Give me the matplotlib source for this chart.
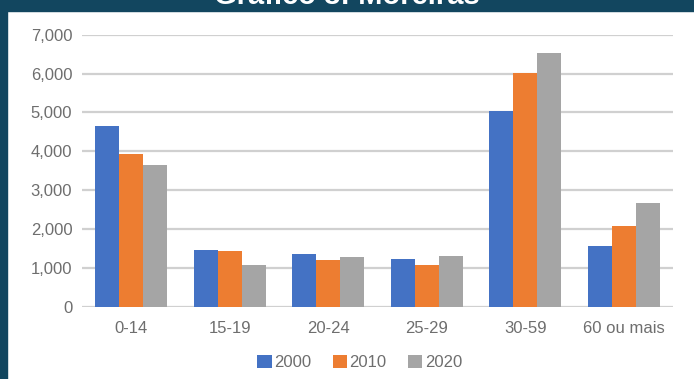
import numpy as np
import matplotlib.pyplot as plt
from matplotlib.patches import Rectangle

plt.rcParams['font.family'] = ['Liberation Sans', 'DejaVu Sans']

categories = ['0-14', '15-19', '20-24', '25-29', '30-59', '60 ou mais']
years = ['2000', '2010', '2020']
v2000 = [4650, 1460, 1350, 1230, 5030, 1560]
v2010 = [3930, 1430, 1190, 1070, 6010, 2080]
v2020 = [3640, 1080, 1290, 1300, 6540, 2660]
colors = ['#4472C4', '#ED7D31', '#A5A5A5']

fig = plt.figure(figsize=(6.94, 3.79), dpi=100)
ax = fig.add_axes([82 / 694, 1 - 306.7 / 379, (673 - 82) / 694, (306.7 - 34.7) / 379])

x = np.arange(len(categories))
w = 0.245
for i, (vals, lab) in enumerate(zip([v2000, v2010, v2020], years)):
    ax.bar(x + (i - 1) * w, vals, w, color=colors[i], label=lab, zorder=3)

ax.set_xlim(-0.5, len(categories) - 0.5)
ax.set_ylim(0, 7000)
ax.set_yticks(range(0, 7001, 1000))
ax.set_yticklabels([f'{v:,}' for v in range(0, 7001, 1000)])
ax.set_xticks(x)
ax.set_xticklabels(categories)
ax.yaxis.grid(True, color='#d0d0d0', linewidth=1.6, zorder=0)
for s in ax.spines.values():
    s.set_visible(False)
ax.tick_params(axis='both', length=0, colors='#6e6e6e', labelsize=12, pad=10)
ax.tick_params(axis='y', pad=7)

ax.legend(loc='center', bbox_to_anchor=(0.47, -0.205), ncol=3, frameon=False,
          fontsize=12, labelcolor='#6e6e6e', handlelength=0.85, handleheight=0.85,
          handletextpad=0.15, columnspacing=1.3)

# dark frame around the slide
fig.patches.append(Rectangle((0, 1 - 11 / 379), 1, 11 / 379, transform=fig.transFigure,
                             color='#12465f', zorder=0))
fig.patches.append(Rectangle((0, 0), 7 / 694, 1, transform=fig.transFigure,
                             color='#12465f', zorder=0))
fig.text(0.5, 1 + 4 / 379, 'Gráfico 3: Moreiras', color='white', fontsize=21,
         fontweight='bold', ha='center', va='center')

fig.savefig('out.png', dpi=100)
